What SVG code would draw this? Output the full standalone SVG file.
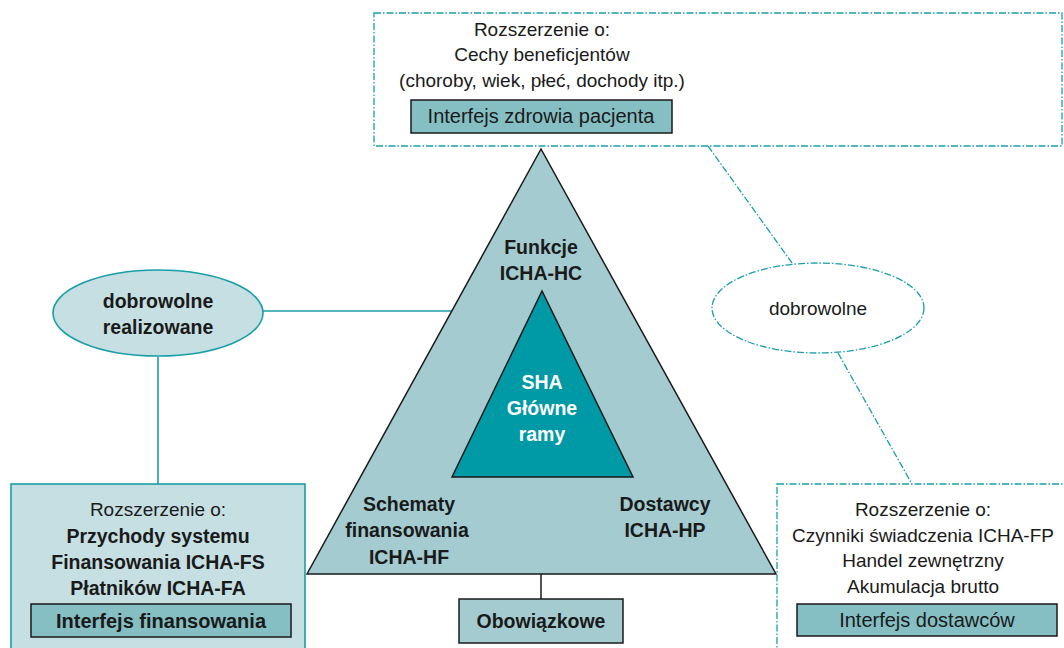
<svg xmlns="http://www.w3.org/2000/svg" width="1064" height="648" viewBox="0 0 1064 648">
<style>
text{font-family:"Liberation Sans",Arial,sans-serif;font-size:19px;fill:#1a1a1a;text-anchor:middle}
.b{font-weight:bold;font-size:19.5px}
.w{fill:#ffffff;font-weight:bold;font-size:19.5px}
.it{font-size:20px}
.dd{fill:#ffffff;stroke:#1a9ea8;stroke-width:1.3;stroke-dasharray:7 2 1.5 2}
.ddl{fill:none;stroke:#1a9ea8;stroke-width:1.3;stroke-dasharray:7 2 1.5 2}
.sl{fill:none;stroke:#1a9ea8;stroke-width:1.6}
.iface{fill:#85bfc4;stroke:#1a1a1a;stroke-width:1.5}
</style>
<rect width="1064" height="648" fill="#ffffff"/>
<g id="connectors">
<line class="sl" x1="263" y1="311" x2="455" y2="311"/>
<line class="sl" x1="158" y1="357" x2="158" y2="484"/>
<line x1="541" y1="574" x2="541" y2="599" stroke="#1a1a1a" stroke-width="1.5"/>
<line class="ddl" x1="708" y1="146" x2="792" y2="263"/>
<line class="ddl" x1="838" y1="353" x2="912" y2="484"/>
</g>
<g id="triangle-outer">
<polygon points="541,149 307,574 776,574" fill="#a3cbd0" stroke="#1a1a1a" stroke-width="1.5"/>
<text class="b" x="541" y="254">Funkcje</text>
<text class="b" x="541" y="280">ICHA-HC</text>
<text class="b" x="409" y="511">Schematy</text>
<text class="b" x="407" y="537">finansowania</text>
<text class="b" x="409" y="564">ICHA-HF</text>
<text class="b" x="665" y="511">Dostawcy</text>
<text class="b" x="665" y="537">ICHA-HP</text>
</g>
<g id="triangle-inner">
<polygon points="542,291 452,477 633,477" fill="#0099a6" stroke="#1a1a1a" stroke-width="1.5"/>
<text class="w" x="542" y="389">SHA</text>
<text class="w" x="542" y="415">Główne</text>
<text class="w" x="542" y="441">ramy</text>
</g>
<g id="top-box">
<rect class="dd" x="374" y="13" width="688" height="133"/>
<text x="542" y="36">Rozszerzenie o:</text>
<text x="542" y="61">Cechy beneficjentów</text>
<text x="542" y="87">(choroby, wiek, płeć, dochody itp.)</text>
<rect class="iface" x="411" y="100" width="261" height="33"/>
<text class="it" x="541" y="123">Interfejs zdrowia pacjenta</text>
</g>
<g id="left-ellipse">
<ellipse cx="158" cy="313" rx="105" ry="43" fill="#c5dfe2" stroke="#1a9ea8" stroke-width="1.6"/>
<text class="b" x="158" y="308">dobrowolne</text>
<text class="b" x="158" y="334">realizowane</text>
</g>
<g id="left-box">
<rect x="11" y="484" width="294" height="180" fill="#c5dfe2" stroke="#1a9ea8" stroke-width="1.6"/>
<text x="158" y="516">Rozszerzenie o:</text>
<text class="b" x="158" y="543">Przychody systemu</text>
<text class="b" x="158" y="569">Finansowania ICHA-FS</text>
<text class="b" x="158" y="595">Płatników ICHA-FA</text>
<rect class="iface" x="31" y="604" width="260" height="33"/>
<text class="b" style="font-size:20px" x="161" y="628">Interfejs finansowania</text>
</g>
<g id="right-ellipse">
<ellipse class="dd" cx="818" cy="308" rx="106" ry="45"/>
<text x="818" y="315">dobrowolne</text>
</g>
<g id="right-box">
<rect class="dd" x="777" y="484" width="300" height="180"/>
<text x="923" y="516">Rozszerzenie o:</text>
<text x="923" y="542">Czynniki świadczenia ICHA-FP</text>
<text x="923" y="567">Handel zewnętrzny</text>
<text x="923" y="593">Akumulacja brutto</text>
<rect class="iface" x="797" y="604" width="260" height="32"/>
<text class="it" x="927" y="627">Interfejs dostawców</text>
</g>
<g id="mandatory">
<rect x="459" y="599" width="164" height="44" fill="#a3cbd0" stroke="#1a1a1a" stroke-width="1.5"/>
<text class="b" x="541" y="628">Obowiązkowe</text>
</g>
</svg>
